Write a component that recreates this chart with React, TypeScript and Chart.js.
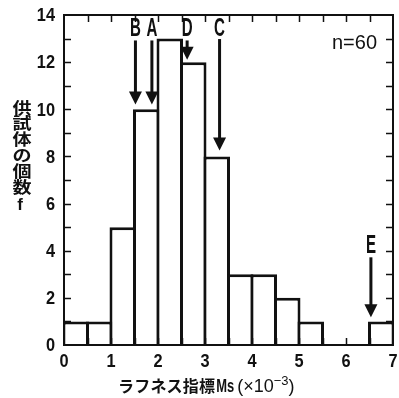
import React, { useEffect, useRef } from "react";
import { Chart, registerables } from "chart.js";

Chart.register(...registerables);

// Histogram data (bin width 0.5, ×10^-3)
const binCenters = [0.25, 0.75, 1.25, 1.75, 2.25, 2.75, 3.25, 3.75, 4.25, 4.75, 5.25, 5.75, 6.25, 6.75];
const counts = [1, 1, 5, 10, 13, 12, 8, 3, 3, 2, 1, 0, 0, 1];

// Tick labels
const xTickValues = [0, 1, 2, 3, 4, 5, 6, 7];
const xTickLabels = ["0", "1", "2", "3", "4", "5", "6", "7"];
const yTickValues = [0, 2, 4, 6, 8, 10, 12, 14];
const yTickLabels = ["0", "2", "4", "6", "8", "10", "12", "14"];

// Annotation arrows
const arrowLabels = ["B", "A", "D", "C", "E"];
const arrowX = [1.52, 1.87, 2.62, 3.31, 6.53];
const arrowFromY = [12.92, 12.92, 12.92, 12.98, 3.72];
const arrowToY = [10.2, 10.2, 12.1, 8.25, 1.18];
const arrowLabelY = [13.47, 13.47, 13.47, 13.47, 4.24];

const nText = "n=60";
const yTitleChars = ["供", "試", "体", "の", "個", "数", "f"];
const xTitleJa = ["ラ", "フ", "ネ", "ス", "指", "標"];

const FONT = "'Liberation Sans', Arial, sans-serif";
const CJK = "'Noto Sans CJK JP', sans-serif";

const overlay = {
  id: "overlay",
  afterDatasetsDraw(chart: any) {
    const { ctx, chartArea: a, scales } = chart;
    const xs = scales.x;
    const ys = scales.y;
    ctx.save();
    ctx.strokeStyle = "#111";
    ctx.fillStyle = "#111";
    // frame
    ctx.lineWidth = 2;
    ctx.strokeRect(a.left, a.top, a.right - a.left, a.bottom - a.top);
    // ticks
    ctx.lineWidth = 1.5;
    const tl = 7;
    ctx.beginPath();
    for (let v = 0.5; v < 7; v += 0.5) {
      const px = Math.round(xs.getPixelForValue(v)) + 0.5;
      ctx.moveTo(px, a.bottom);
      ctx.lineTo(px, a.bottom - tl);
      ctx.moveTo(px, a.top);
      ctx.lineTo(px, a.top + tl);
    }
    for (let v = 1; v < 14; v += 1) {
      const py = Math.round(ys.getPixelForValue(v)) + 0.5;
      ctx.moveTo(a.left, py);
      ctx.lineTo(a.left + tl, py);
      ctx.moveTo(a.right, py);
      ctx.lineTo(a.right - tl, py);
    }
    ctx.stroke();

    // tick labels
    ctx.font = `bold 19px ${FONT}`;
    ctx.textBaseline = "middle";
    yTickValues.forEach((v, i) => {
      const py = ys.getPixelForValue(v);
      ctx.save();
      ctx.translate(a.left - 9, py);
      ctx.scale(0.86, 1);
      ctx.textAlign = "right";
      ctx.fillText(yTickLabels[i], 0, 1);
      ctx.restore();
    });
    xTickValues.forEach((v, i) => {
      const px = xs.getPixelForValue(v);
      ctx.save();
      ctx.translate(px, a.bottom + 16);
      ctx.scale(0.86, 1);
      ctx.textAlign = "center";
      ctx.fillText(xTickLabels[i], 0, 1);
      ctx.restore();
    });

    // arrows
    for (let i = 0; i < arrowLabels.length; i++) {
      const px = xs.getPixelForValue(arrowX[i]);
      const y0 = ys.getPixelForValue(arrowFromY[i]);
      const y1 = ys.getPixelForValue(arrowToY[i]);
      const hh = 13;
      const hw = 6.5;
      ctx.lineWidth = 3;
      ctx.beginPath();
      ctx.moveTo(px, y0);
      ctx.lineTo(px, y1 - hh + 1);
      ctx.stroke();
      ctx.beginPath();
      ctx.moveTo(px - hw, y1 - hh);
      ctx.lineTo(px + hw, y1 - hh);
      ctx.lineTo(px, y1);
      ctx.closePath();
      ctx.fill();
      // label
      const ly = ys.getPixelForValue(arrowLabelY[i]);
      ctx.save();
      ctx.translate(px, ly);
      ctx.scale(0.58, 1);
      ctx.font = `bold 26px ${FONT}`;
      ctx.textAlign = "center";
      ctx.textBaseline = "middle";
      ctx.fillText(arrowLabels[i], 0, 1);
      ctx.restore();
    }

    // n=60
    ctx.font = `20px ${FONT}`;
    ctx.textAlign = "right";
    ctx.textBaseline = "middle";
    ctx.fillText(nText, a.right - 16, 43);

    // y title (vertical stacked)
    ctx.textAlign = "center";
    ctx.textBaseline = "middle";
    yTitleChars.forEach((c, i) => {
      const cy = 107.5 + i * 15.9;
      if (c === "f") {
        ctx.font = `bold 17px ${FONT}`;
        ctx.fillText(c, 20, cy + 2);
      } else {
        ctx.save();
        ctx.translate(22, cy);
        ctx.scale(1.12, 0.94);
        ctx.font = `bold 17px ${CJK}`;
        ctx.fillText(c, 0, 0);
        ctx.restore();
      }
    });

    // x title
    const yb = 386;
    ctx.textAlign = "left";
    ctx.textBaseline = "middle";
    ctx.font = `bold 16px ${CJK}`;
    let x = 118;
    xTitleJa.forEach((c) => {
      ctx.fillText(c, x, yb);
      x += 16.2;
    });
    x += 1;
    ctx.save();
    ctx.translate(x, yb);
    ctx.scale(0.72, 1);
    ctx.font = `bold 18px ${FONT}`;
    ctx.fillText("Ms", 0, 1);
    const msw = ctx.measureText("Ms").width * 0.72;
    ctx.restore();
    x += msw + 3;
    ctx.font = `18px ${FONT}`;
    const t2 = "(×10";
    ctx.fillText(t2, x, yb + 1);
    x += ctx.measureText(t2).width;
    ctx.font = `13px ${FONT}`;
    const t3 = "−3";
    ctx.fillText(t3, x, yb - 5);
    x += ctx.measureText(t3).width;
    ctx.font = `18px ${FONT}`;
    ctx.fillText(")", x, yb + 1);

    ctx.restore();
  },
};

export default function App() {
  const ref = useRef<HTMLCanvasElement | null>(null);
  useEffect(() => {
    if (!ref.current) return;
    const halfPx = (393 - 64) / 14;
    const chart = new Chart(ref.current, {
      type: "bar",
      data: {
        datasets: [
          {
            data: binCenters.map((c, i) => ({ x: c, y: counts[i] })),
            backgroundColor: "#ffffff",
            borderColor: "#111111",
            borderWidth: 3,
            borderSkipped: "start",
            categoryPercentage: 1,
            barPercentage: (halfPx + 3) / halfPx,
          } as any,
        ],
      },
      options: {
        animation: false,
        responsive: true,
        maintainAspectRatio: false,
        layout: { padding: { top: 15, right: 6, left: 0, bottom: 0 } },
        plugins: { legend: { display: false }, tooltip: { enabled: false } },
        scales: {
          x: {
            type: "linear",
            min: 0,
            max: 7,
            offset: false,
            grid: { display: false, drawTicks: false },
            border: { display: false },
            ticks: { display: false, stepSize: 1 },
            afterFit: (s: any) => {
              s.height = 53;
            },
          },
          y: {
            min: 0,
            max: 14,
            grid: { display: false, drawTicks: false },
            border: { display: false },
            ticks: { display: false, stepSize: 2 },
            afterFit: (s: any) => {
              s.width = 64;
            },
          },
        },
      },
      plugins: [overlay],
    });
    return () => chart.destroy();
  }, []);
  return (
    <div style={{ position: "absolute", left: 0, top: 0, width: 399, height: 398, background: "#fff" }}>
      <canvas ref={ref} />
    </div>
  );
}
